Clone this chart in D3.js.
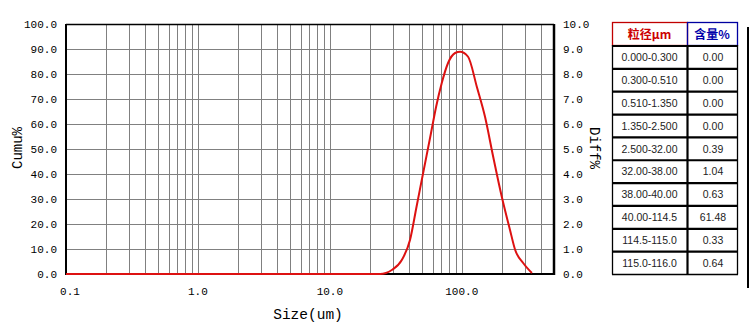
<!DOCTYPE html>
<html><head><meta charset="utf-8">
<script src="https://cdn.jsdelivr.net/npm/d3@7"></script>
<style>body{margin:0;background:#fff}svg{display:block}</style>
</head><body>
<script>
// ---- data ----
const sizes = [0.1, 24.0, 29.5, 35.1, 40.5, 45.4, 50.9, 58.4, 63.9, 70.5, 78.7, 89.0, 97.1, 111.6, 130, 150, 173, 201, 232, 254, 292, 340];
const diffValues = [0, 0, 0.16, 0.56, 1.36, 2.69, 4.03, 5.63, 6.69, 7.64, 8.44, 8.84, 8.89, 8.69, 7.49, 6.29, 4.69, 3.09, 1.76, 0.96, 0.44, 0.04];
const xTickLabels = ["0.1", "1.0", "10.0", "100.0"];
const xTickValues = [0.1, 1, 10, 100];
const leftTicks = [0,10,20,30,40,50,60,70,80,90,100];
const rightTicks = [0,1,2,3,4,5,6,7,8,9,10];
const tableRanges = ["0.000-0.300","0.300-0.510","0.510-1.350","1.350-2.500","2.500-32.00","32.00-38.00","38.00-40.00","40.00-114.5","114.5-115.0","115.0-116.0"];
const tableValues = ["0.00","0.00","0.00","0.00","0.39","1.04","0.63","61.48","0.33","0.64"];
const tableHeaders = ["粒径μm","含量%"];

const W = 750, H = 332;
const L = 66, R = 554, T = 24, B = 274;
const svg = d3.select("body").append("svg").attr("width", W).attr("height", H);

const x = d3.scaleLog().domain([0.1, 500]).range([L, R]);
const yL = d3.scaleLinear().domain([0, 100]).range([B, T]);
const yR = d3.scaleLinear().domain([0, 10]).range([B, T]);

const mono = "'Liberation Mono', 'DejaVu Sans Mono', monospace";

// grid
const gridX = x.ticks().filter(v => v > 0.1 && v < 500);
svg.append("g").selectAll("line").data(gridX).join("line")
  .attr("x1", d => Math.round(x(d)) + 0.5).attr("x2", d => Math.round(x(d)) + 0.5)
  .attr("y1", T).attr("y2", B).attr("stroke", "#808080").attr("stroke-width", 1);
svg.append("g").selectAll("line").data(leftTicks.slice(1, -1)).join("line")
  .attr("x1", L).attr("x2", R)
  .attr("y1", d => Math.round(yL(d)) + 0.5).attr("y2", d => Math.round(yL(d)) + 0.5)
  .attr("stroke", "#808080").attr("stroke-width", 1);

// frame
svg.append("line").attr("x1", L).attr("x2", R).attr("y1", T + 0.5).attr("y2", T + 0.5).attr("stroke", "#000").attr("stroke-width", 1.5);
svg.append("line").attr("x1", L).attr("x2", L).attr("y1", T).attr("y2", B + 1).attr("stroke", "#000").attr("stroke-width", 2);
svg.append("line").attr("x1", R).attr("x2", R).attr("y1", T).attr("y2", B + 1).attr("stroke", "#000").attr("stroke-width", 2.5);
svg.append("line").attr("x1", L).attr("x2", R + 1).attr("y1", B).attr("y2", B).attr("stroke", "#000").attr("stroke-width", 2);

// curve
const line = d3.line().x((d, i) => x(sizes[i])).y(d => yR(d)).curve(d3.curveMonotoneX);
svg.append("path").datum(diffValues).attr("d", line)
  .attr("fill", "none").attr("stroke", "#dd1111").attr("stroke-width", 2);

// left tick labels
svg.append("g").selectAll("text").data(leftTicks).join("text")
  .attr("x", 57).attr("y", d => yL(d)).attr("dy", "0.35em").attr("text-anchor", "end")
  .attr("font-family", mono).attr("font-size", 11).attr("fill", "#000")
  .text(d => d3.format(".1f")(d));
// right tick labels
svg.append("g").selectAll("text").data(rightTicks).join("text")
  .attr("x", 563).attr("y", d => yR(d)).attr("dy", "0.35em").attr("text-anchor", "start")
  .attr("font-family", mono).attr("font-size", 11).attr("fill", "#000")
  .text(d => d3.format(".1f")(d));
// x tick labels
svg.append("g").selectAll("text").data(xTickValues).join("text")
  .attr("x", (d, i) => x(d) + (i === 0 ? 4 : 0)).attr("y", 291).attr("dy", "0.35em").attr("text-anchor", "middle")
  .attr("font-family", mono).attr("font-size", 11).attr("fill", "#000")
  .text((d, i) => xTickLabels[i]);

// axis titles
svg.append("text").attr("x", 308).attr("y", 314).attr("dy", "0.35em").attr("text-anchor", "middle")
  .attr("font-family", mono).attr("font-size", 14.5).text("Size(um)");
svg.append("text").attr("transform", "translate(17,148) rotate(-90)").attr("dy", "0.35em").attr("text-anchor", "middle")
  .attr("font-family", mono).attr("font-size", 14).text("Cumu%");
svg.append("text").attr("transform", "translate(595,148) rotate(90)").attr("dy", "0.35em").attr("text-anchor", "middle")
  .attr("font-family", mono).attr("font-size", 14).text("Diff%");

// table
const tx0 = 612, tx1 = 687, tx2 = 737, ty0 = 22, hh = 23, rh = 22.85;
const hdr = svg.append("g");
hdr.append("rect").attr("x", tx0 + 0.5).attr("y", ty0 + 0.5).attr("width", tx1 - tx0).attr("height", hh)
  .attr("fill", "none").attr("stroke", "#c00000").attr("stroke-width", 1.3);
hdr.append("rect").attr("x", tx1 + 0.5).attr("y", ty0 + 0.5).attr("width", tx2 - tx1).attr("height", hh)
  .attr("fill", "none").attr("stroke", "#0000a0").attr("stroke-width", 1.3);
hdr.append("text").attr("x", (tx0 + tx1) / 2).attr("y", ty0 + hh / 2 + 1).attr("dy", "0.35em").attr("text-anchor", "middle")
  .attr("font-family", "'Noto Sans CJK SC', sans-serif").attr("font-weight", "bold").attr("font-size", 12).attr("fill", "#cc0000").text(tableHeaders[0]);
hdr.append("text").attr("x", (tx1 + tx2) / 2).attr("y", ty0 + hh / 2 + 1).attr("dy", "0.35em").attr("text-anchor", "middle")
  .attr("font-family", "'Noto Sans CJK SC', sans-serif").attr("font-weight", "bold").attr("font-size", 12).attr("fill", "#0000aa").text(tableHeaders[1]);

const body = svg.append("g");
const top0 = ty0 + hh;
const rows = body.selectAll("g").data(tableRanges).join("g");
rows.append("text").attr("x", (tx0 + tx1) / 2).attr("y", (d, i) => top0 + rh * i + rh / 2 + 1).attr("dy", "0.35em")
  .attr("text-anchor", "middle").attr("font-family", "'Liberation Sans', Arial, sans-serif").attr("font-size", 10.5).attr("fill", "#222")
  .text(d => d);
rows.append("text").attr("x", (tx1 + tx2) / 2 + 1).attr("y", (d, i) => top0 + rh * i + rh / 2 + 1).attr("dy", "0.35em")
  .attr("text-anchor", "middle").attr("font-family", "'Liberation Sans', Arial, sans-serif").attr("font-size", 10.5).attr("fill", "#222")
  .text((d, i) => tableValues[i]);
// horizontal separators
body.append("g").selectAll("line").data(d3.range(tableRanges.length + 1)).join("line")
  .attr("x1", tx0).attr("x2", tx2 + 1)
  .attr("y1", i => top0 + rh * i + 1).attr("y2", i => top0 + rh * i + 1)
  .attr("stroke", "#000").attr("stroke-width", i => (i === tableRanges.length ? 1.3 : 2.2));
const tb = top0 + rh * tableRanges.length + 1;
body.append("line").attr("x1", tx0 + 0.5).attr("x2", tx0 + 0.5).attr("y1", top0).attr("y2", tb).attr("stroke", "#000").attr("stroke-width", 1.3);
body.append("line").attr("x1", tx1 + 0.5).attr("x2", tx1 + 0.5).attr("y1", top0).attr("y2", tb).attr("stroke", "#000").attr("stroke-width", 2.2);
body.append("line").attr("x1", tx2 + 0.5).attr("x2", tx2 + 0.5).attr("y1", top0).attr("y2", tb).attr("stroke", "#000").attr("stroke-width", 1.3);

// right panel edge
svg.append("line").attr("x1", 748).attr("x2", 748).attr("y1", 27).attr("y2", 288).attr("stroke", "#000").attr("stroke-width", 2);
</script>
</body></html>
